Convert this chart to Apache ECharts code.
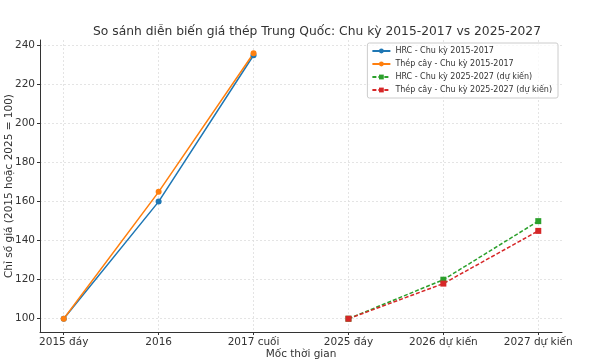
<!DOCTYPE html>
<html><head><meta charset="utf-8">
<script src="https://cdn.jsdelivr.net/npm/echarts@6/dist/echarts.min.js"></script>
<style>html,body{margin:0;padding:0;background:#fff}#c{width:600px;height:360px}</style>
</head><body><div id="c"></div>
<script>
const categories = ['2015 đáy', '2016', '2017 cuối', '2025 đáy', '2026 dự kiến', '2027 dự kiến'];
const hrc1517 = [100, 160, 235];
const rebar1517 = [100, 165, 236];
const hrc2527 = [100, 120, 150];
const rebar2527 = [100, 118, 145];
const yTicks = [100, 120, 140, 160, 180, 200, 220, 240];
const seriesNames = ['HRC - Chu kỳ 2015-2017', 'Thép cây - Chu kỳ 2015-2017', 'HRC - Chu kỳ 2025-2027 (dự kiến)', 'Thép cây - Chu kỳ 2025-2027 (dự kiến)'];

const font = 'DejaVu Sans';
const pts = (vals, offset) => vals.map((v, i) => [offset + i, v]);
const idx = categories.map((_, i) => i);

const chart = echarts.init(document.getElementById('c'), null, {renderer: 'canvas'});
function mk(name, data, color, symbol, dashed) {
  return {
    name, type: 'line', data, symbol, symbolSize: 6,
    showSymbol: true,
    lineStyle: {color, width: 1.5, type: dashed ? [4, 2] : 'solid'},
    itemStyle: {color},
    animation: false
  };
}
chart.setOption({
  animation: false,
  textStyle: {fontFamily: font},
  title: {
    text: 'So sánh diễn biến giá thép Trung Quốc: Chu kỳ 2015-2017 vs 2025-2027',
    left: 312, top: 21, textAlign: 'center',
    textStyle: {fontFamily: font, fontSize: 12.3, fontWeight: 'normal', color: '#333'}
  },
  legend: {
    orient: 'vertical', right: 42, top: 43,
    itemWidth: 18, itemHeight: 6, itemGap: 5,
    padding: [4, 6, 4, 4],
    borderColor: '#ccc', borderWidth: 1, borderRadius: 2,
    backgroundColor: 'rgba(255,255,255,0.8)',
    textStyle: {fontFamily: font, fontSize: 8, color: '#333'},
    data: seriesNames
  },
  grid: {left: 40, right: 38, top: 40, bottom: 28, containLabel: false, outerBoundsMode: 'none'},
  xAxis: {
    type: 'value', min: -0.25, max: 5.25,
    name: 'Mốc thời gian', nameLocation: 'middle', nameGap: 17, nameMoveOverlap: false,
    nameTextStyle: {fontFamily: font, fontSize: 10.5, color: '#333'},
    axisLine: {show: true, onZero: false, lineStyle: {color: '#333', width: 1}},
    axisTick: {show: true, customValues: idx, length: 3, lineStyle: {color: '#333'}},
    axisLabel: {customValues: idx, formatter: v => categories[Math.round(v)] ?? '', fontFamily: font, fontSize: 10.5, color: '#333', margin: 5},
    splitLine: {show: true, lineStyle: {color: '#ddd', type: [2, 2], width: 0.8}}
  },
  yAxis: {
    type: 'value', min: 93.2, max: 242.8,
    name: 'Chỉ số giá (2015 hoặc 2025 = 100)', nameLocation: 'middle', nameGap: 25, nameRotate: 90, nameMoveOverlap: false,
    nameTextStyle: {fontFamily: font, fontSize: 10.5, color: '#333'},
    axisLine: {show: true, onZero: false, lineStyle: {color: '#333', width: 1}},
    axisTick: {show: true, customValues: yTicks, length: 3, lineStyle: {color: '#333'}},
    axisLabel: {customValues: yTicks, fontFamily: font, fontSize: 10.5, color: '#333', margin: 5},
    splitLine: {show: true, lineStyle: {color: '#ddd', type: [2, 2], width: 0.8}}
  },
  series: [
    mk(seriesNames[0], pts(hrc1517, 0), '#1f77b4', 'circle', false),
    mk(seriesNames[1], pts(rebar1517, 0), '#ff7f0e', 'circle', false),
    mk(seriesNames[2], pts(hrc2527, 3), '#2ca02c', 'rect', true),
    mk(seriesNames[3], pts(rebar2527, 3), '#d62728', 'rect', true)
  ]
});
</script></body></html>
